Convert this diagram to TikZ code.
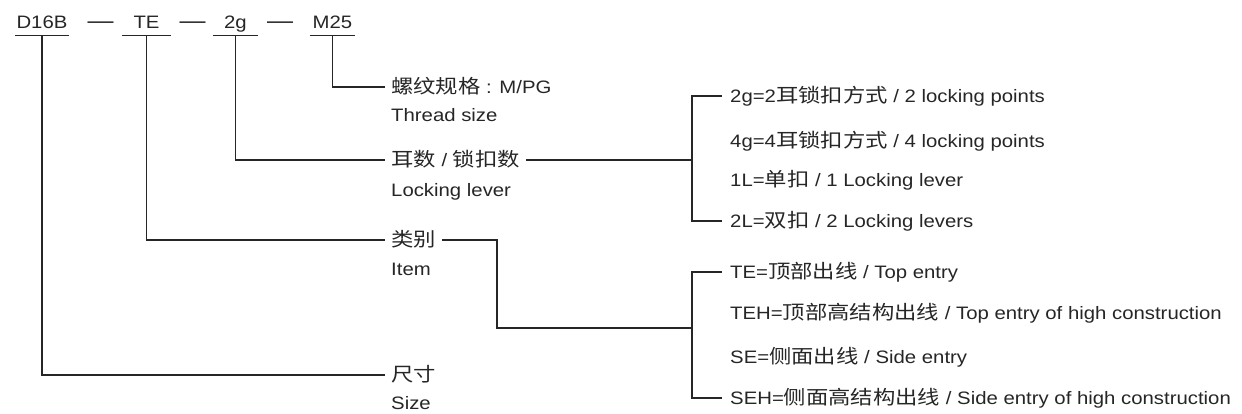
\documentclass[tikz,border=0pt]{standalone}
\usepackage{fontspec}
\setmainfont{Liberation Sans}[FakeStretch=1.13]
\newfontfamily\cjk{Noto Sans CJK SC}[FakeStretch=1.16, Scale=1.07]
\definecolor{ink}{HTML}{262626}
\begin{document}
\begin{tikzpicture}[x=1pt,y=-1pt,
  every node/.style={text=ink, font=\fontsize{18}{21}\selectfont},
  code/.style={anchor=base, inner sep=0pt, text depth=7pt},
  dashtext/.style={anchor=base, inner sep=0pt, font=\fontsize{23}{24}\selectfont},
  lab/.style={anchor=west, inner xsep=6pt, inner ysep=0pt, text height=13.5pt, text depth=0pt},
  opt/.style={lab, inner xsep=8pt},
  wire/.style={draw=ink, line width=1.4pt},
]
\useasboundingbox (0,0) rectangle (1242,414);

% code line
\node[code, minimum width=54pt] (D16B) at (42,28.5) {D16B};
\node[dashtext] (d1) at (100.5,28.5) {—};
\node[code, minimum width=49pt] (TE) at (146.5,28.5) {TE};
\node[dashtext] (d2) at (192.5,28.5) {—};
\node[code, minimum width=45pt] (g2) at (235.5,28.5) {2g};
\node[dashtext] (d3) at (280,28.5) {—};
\node[code, minimum width=45pt] (M25) at (332.5,28.5) {M25};
\foreach \n in {D16B,TE,g2,M25}
  \draw[wire] (\n.south west) -- (\n.south east);

% labels
\node[lab] (thr) at (385,87) {{\cjk 螺纹规格} : M/PG};
\node[lab] (thrEN) at (385,114.5) {Thread size};
\node[lab] (lock) at (385,160) {{\cjk 耳数} / {\cjk 锁扣数}};
\node[lab] (lockEN) at (385,190) {Locking lever};
\node[lab] (item) at (385,240) {{\cjk 类别}};
\node[lab] (itemEN) at (385,268.5) {Item};
\node[lab] (size) at (385,375) {{\cjk 尺寸}};
\node[lab] (sizeEN) at (385,403) {Size};

% options
\node[opt] (o1) at (722,96) {2g=2{\cjk 耳锁扣方式} / 2 locking points};
\node[opt] (o2) at (722,141) {4g=4{\cjk 耳锁扣方式} / 4 locking points};
\node[opt] (o3) at (722,180) {1L={\cjk 单扣} / 1 Locking lever};
\node[opt] (o4) at (722,221) {2L={\cjk 双扣} / 2 Locking levers};
\node[opt] (p1) at (722,272) {TE={\cjk 顶部出线} / Top entry};
\node[opt] (p2) at (722,313) {TEH={\cjk 顶部高结构出线} / Top entry of high construction};
\node[opt] (p3) at (722,357) {SE={\cjk 侧面出线} / Side entry};
\node[opt] (p4) at (722,398) {SEH={\cjk 侧面高结构出线} / Side entry of high construction};

% connectors
\draw[wire] (M25.south) |- (thr.west);
\draw[wire] (g2.south) |- (lock.west);
\draw[wire] (TE.south) |- (item.west);
\draw[wire] (D16B.south) |- (size.west);

\coordinate (b1) at (692,160);
\draw[wire] (lock.east) -- (b1);
\draw[wire] (o1.west) -| (b1) |- (o4.west);

\coordinate (k) at (497,328);
\coordinate (b2) at (692,328);
\draw[wire] (item.east) -| (k) -- (b2);
\draw[wire] (p1.west) -| (b2) |- (p4.west);
\end{tikzpicture}
\end{document}
